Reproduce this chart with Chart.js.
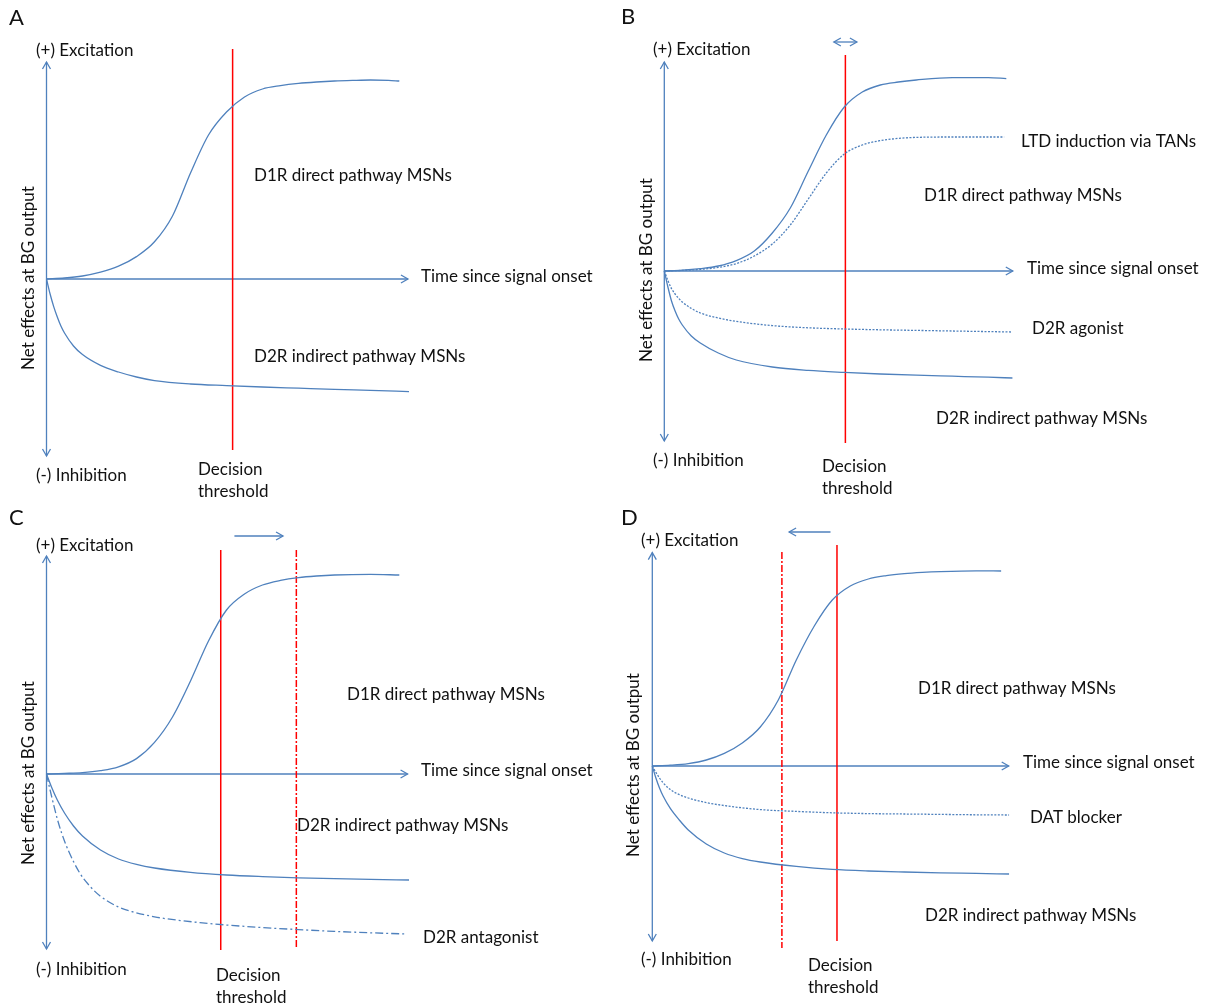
<!DOCTYPE html>
<html>
<head>
<meta charset="utf-8">
<script src="https://cdn.jsdelivr.net/npm/chart.js@4"></script>
<style>
  body { margin: 0; background: #fff; }
  #wrap { position: relative; width: 1210px; height: 1006px; }
  canvas { position: absolute; }
</style>
</head>
<body>
<div id="wrap">
  <canvas id="panelA" width="605" height="503" style="left:0;top:0"></canvas>
  <canvas id="panelB" width="605" height="503" style="left:605px;top:0"></canvas>
  <canvas id="panelC" width="605" height="503" style="left:0;top:503px"></canvas>
  <canvas id="panelD" width="605" height="503" style="left:605px;top:503px"></canvas>
</div>
<script>
// time since onset (arbitrary units) and net effect (+1 ~ full excitation)

// panel A
const a_d1r_t = [0, 0.5, 1, 1.5, 2, 2.5, 3, 3.5, 4, 4.5, 5, 5.5, 6, 6.5, 7, 7.5, 8, 8.5, 9, 9.5, 9.8];
const a_d1r_e = [0, 0.005, 0.015, 0.034, 0.064, 0.112, 0.186, 0.315, 0.53, 0.72, 0.835, 0.91, 0.95, 0.967, 0.978, 0.985, 0.99, 0.993, 0.995, 0.993, 0.99];
const a_d2r_t = [0, 0.1, 0.2, 0.3, 0.4, 0.5, 0.75, 1, 1.5, 2, 2.5, 3, 4, 5, 6, 7, 8, 9, 10.07];
const a_d2r_e = [0, -0.075, -0.138, -0.19, -0.235, -0.27, -0.335, -0.378, -0.432, -0.465, -0.49, -0.508, -0.525, -0.533, -0.54, -0.546, -0.552, -0.557, -0.563];

// panel B
const b_d1r_t = [0, 0.5, 1, 1.5, 2, 2.5, 3, 3.5, 4, 4.5, 5, 5.5, 6, 6.5, 7, 8, 9, 9.5];
const b_d1r_e = [0, 0.004, 0.012, 0.025, 0.052, 0.1, 0.19, 0.315, 0.5, 0.68, 0.82, 0.895, 0.93, 0.945, 0.955, 0.967, 0.967, 0.962];
const b_ltd_t = [0, 0.5, 1, 1.5, 2, 2.5, 3, 3.5, 4, 4.5, 5, 5.5, 6, 6.5, 7, 8, 9.44];
const b_ltd_e = [0, 0.003, 0.008, 0.018, 0.037, 0.075, 0.135, 0.23, 0.36, 0.49, 0.585, 0.63, 0.652, 0.663, 0.668, 0.67, 0.67];
const b_ago_t = [0, 0.1, 0.2, 0.3, 0.4, 0.5, 0.75, 1, 1.5, 2, 3, 4, 5, 6, 7, 8, 9, 9.67];
const b_ago_e = [0, -0.048, -0.088, -0.115, -0.137, -0.155, -0.187, -0.21, -0.235, -0.252, -0.273, -0.284, -0.29, -0.294, -0.297, -0.3, -0.303, -0.305];
const b_d2r_t = [0, 0.1, 0.2, 0.3, 0.4, 0.5, 0.75, 1, 1.5, 2, 3, 4, 5, 6, 7, 8, 9, 9.67];
const b_d2r_e = [0, -0.08, -0.15, -0.2, -0.24, -0.27, -0.325, -0.36, -0.41, -0.445, -0.48, -0.497, -0.507, -0.515, -0.521, -0.526, -0.531, -0.535];

// panel C
const c_d1r_t = [0, 0.5, 1, 1.5, 2, 2.5, 3, 3.5, 4, 4.5, 5, 5.5, 6, 6.5, 7, 7.5, 8, 9, 9.8];
const c_d1r_e = [0, 0.003, 0.007, 0.017, 0.036, 0.077, 0.158, 0.285, 0.465, 0.665, 0.82, 0.9, 0.945, 0.968, 0.982, 0.99, 0.995, 0.998, 0.995];
const c_d2r_t = [0, 0.15, 0.3, 0.5, 0.75, 1, 1.5, 2, 2.5, 3, 4, 5, 6, 7, 8, 9, 10.07];
const c_d2r_e = [0, -0.07, -0.13, -0.195, -0.26, -0.31, -0.38, -0.425, -0.452, -0.47, -0.492, -0.505, -0.513, -0.519, -0.523, -0.527, -0.53];
const c_ant_t = [0, 0.1, 0.2, 0.3, 0.42, 0.6, 0.93, 1.2, 1.49, 2, 2.41, 3, 3.34, 4.26, 5, 6, 7, 8, 9, 10.01];
const c_ant_e = [0, -0.08, -0.155, -0.225, -0.295, -0.38, -0.497, -0.56, -0.61, -0.665, -0.69, -0.714, -0.724, -0.743, -0.755, -0.768, -0.778, -0.787, -0.794, -0.8];

// panel D
const d_d1r_t = [0, 0.5, 1, 1.5, 2, 2.5, 3, 3.5, 4, 4.5, 5, 5.5, 6, 6.5, 7, 7.5, 8, 9, 9.69];
const d_d1r_e = [0, 0.004, 0.012, 0.03, 0.063, 0.115, 0.195, 0.33, 0.53, 0.7, 0.83, 0.9, 0.935, 0.952, 0.962, 0.968, 0.972, 0.976, 0.975];
const d_dat_t = [0, 0.1, 0.2, 0.3, 0.5, 0.75, 1, 1.5, 2, 3, 4, 5, 6, 7, 8, 9, 9.91];
const d_dat_e = [0, -0.032, -0.06, -0.084, -0.118, -0.143, -0.16, -0.183, -0.198, -0.218, -0.227, -0.234, -0.238, -0.24, -0.242, -0.244, -0.245];
const d_d2r_t = [0, 0.1, 0.2, 0.3, 0.5, 0.75, 1, 1.5, 2, 2.5, 3, 4, 5, 6, 7, 8, 9, 9.91];
const d_d2r_e = [0, -0.06, -0.11, -0.15, -0.212, -0.27, -0.32, -0.39, -0.435, -0.463, -0.48, -0.502, -0.517, -0.525, -0.53, -0.534, -0.537, -0.54];

// decision thresholds (time)
const a_thresh = [5.17];
const b_thresh = [5.03];
const c_thresh = [4.84, 6.94];
const d_thresh = [5.13, 3.6];

const SX = 36, SY = 200; // px per unit
const W = 605, H = 503;
const BLUE = '#4f81bd';
const RED = '#ff0000';
const FONT = 'Lato, "Open Sans", sans-serif';

function pts(ts, es) {
  return ts.map((t, i) => ({ x: t, y: es[i] }));
}

function curve(ts, es, dash) {
  return {
    data: pts(ts, es),
    borderColor: BLUE,
    borderWidth: 1.3,
    borderDash: dash || [],
    pointRadius: 0,
    cubicInterpolationMode: 'monotone',
    fill: false
  };
}

function vline(t, top, bottom, dash) {
  return {
    data: [{ x: t, y: top }, { x: t, y: bottom }],
    borderColor: RED,
    borderWidth: 1.5,
    borderDash: dash || [],
    pointRadius: 0,
    fill: false
  };
}

// open arrow head
function head(ctx, x, y, ang) {
  const len = 7, half = 4;
  ctx.beginPath();
  ctx.moveTo(x - len * Math.cos(ang) - half * Math.sin(ang), y - len * Math.sin(ang) + half * Math.cos(ang));
  ctx.lineTo(x, y);
  ctx.lineTo(x - len * Math.cos(ang) + half * Math.sin(ang), y - len * Math.sin(ang) - half * Math.cos(ang));
  ctx.stroke();
}

const extras = {
  id: 'extras',
  beforeDatasetsDraw(chart, args, opts) {
    const ctx = chart.ctx, xs = chart.scales.x, ys = chart.scales.y;
    ctx.save();
    ctx.strokeStyle = BLUE;
    ctx.lineWidth = 1.3;
    // axes
    const x0 = xs.getPixelForValue(0), y0 = ys.getPixelForValue(0);
    const xe = xs.getPixelForValue(opts.xEnd);
    const yt = ys.getPixelForValue(opts.yTop), yb = ys.getPixelForValue(opts.yBot);
    ctx.beginPath(); ctx.moveTo(x0, y0); ctx.lineTo(xe, y0); ctx.stroke();
    head(ctx, xe, y0, 0);
    ctx.beginPath(); ctx.moveTo(x0, yt); ctx.lineTo(x0, yb); ctx.stroke();
    head(ctx, x0, yt, -Math.PI / 2);
    head(ctx, x0, yb, Math.PI / 2);
    ctx.restore();
  },
  afterDraw(chart, args, opts) {
    const ctx = chart.ctx, xs = chart.scales.x, ys = chart.scales.y;
    ctx.save();
    // threshold shift arrow
    if (opts.shift) {
      const s = opts.shift;
      const p1 = xs.getPixelForValue(s.from), p2 = xs.getPixelForValue(s.to), py = ys.getPixelForValue(s.e);
      ctx.strokeStyle = BLUE;
      ctx.lineWidth = 1.3;
      ctx.beginPath(); ctx.moveTo(p1, py); ctx.lineTo(p2, py); ctx.stroke();
      head(ctx, p2, py, p2 > p1 ? 0 : Math.PI);
      if (s.both) head(ctx, p1, py, p2 > p1 ? Math.PI : 0);
    }
    // text
    ctx.fillStyle = '#111';
    ctx.textBaseline = 'middle';
    ctx.textAlign = 'left';
    ctx.font = '22px ' + FONT;
    ctx.fillText(opts.letter[0], opts.letter[1], opts.letter[2]);
    ctx.font = '17px ' + FONT;
    opts.labels.forEach(l => ctx.fillText(l[0], l[1], l[2]));
    ctx.translate(opts.ylab[0], opts.ylab[1]);
    ctx.rotate(-Math.PI / 2);
    ctx.textAlign = 'center';
    ctx.fillText('Net effects at BG output', 0, 0);
    ctx.restore();
  }
};

function makePanel(id, cfg) {
  new Chart(document.getElementById(id), {
    type: 'line',
    data: { datasets: cfg.datasets },
    options: {
      responsive: false,
      animation: false,
      events: [],
      layout: { padding: 0 },
      scales: {
        x: { type: 'linear', display: false, min: -cfg.ox / SX, max: (W - cfg.ox) / SX },
        y: { type: 'linear', display: false, min: -(H - cfg.oy) / SY, max: cfg.oy / SY }
      },
      plugins: {
        legend: { display: false },
        tooltip: { enabled: false },
        extras: cfg.extras
      }
    },
    plugins: [extras]
  });
}

const commonLabels = (ex, inh, time, dec) => [
  ['(+) Excitation', ex[0], ex[1]],
  ['(-) Inhibition', inh[0], inh[1]],
  ['Time since signal onset', time[0], time[1]],
  ['Decision', dec[0], dec[1]],
  ['threshold', dec[0], dec[1] + 22]
];

makePanel('panelA', {
  ox: 46.5, oy: 279,
  datasets: [
    curve(a_d1r_t, a_d1r_e),
    curve(a_d2r_t, a_d2r_e),
    vline(a_thresh[0], 1.15, -0.855)
  ],
  extras: {
    xEnd: 10.04, yTop: 1.085, yBot: -0.885,
    letter: ['A', 9, 18],
    ylab: [29, 278],
    labels: commonLabels([36, 51], [36, 476], [421, 277], [198, 470]).concat([
      ['D1R direct pathway MSNs', 254, 176],
      ['D2R indirect pathway MSNs', 254, 357]
    ])
  }
});

makePanel('panelB', {
  ox: 59.3, oy: 271,
  datasets: [
    curve(b_d1r_t, b_d1r_e),
    curve(b_ltd_t, b_ltd_e, [2, 1.5]),
    curve(b_ago_t, b_ago_e, [2, 1.5]),
    curve(b_d2r_t, b_d2r_e),
    vline(b_thresh[0], 1.08, -0.86)
  ],
  extras: {
    xEnd: 9.68, yTop: 1.045, yBot: -0.85,
    letter: ['B', 16, 17],
    ylab: [41.5, 270],
    shift: { from: 4.71, to: 5.35, e: 1.145, both: true },
    labels: commonLabels([48, 50], [48, 461], [422, 269], [217, 467]).concat([
      ['LTD induction via TANs', 416, 142],
      ['D1R direct pathway MSNs', 319, 196],
      ['D2R agonist', 427, 329],
      ['D2R indirect pathway MSNs', 331, 419]
    ])
  }
});

makePanel('panelC', {
  ox: 46.5, oy: 271,
  datasets: [
    curve(c_d1r_t, c_d1r_e),
    curve(c_d2r_t, c_d2r_e),
    curve(c_ant_t, c_ant_e, [8, 3, 2, 3]),
    vline(c_thresh[0], 1.12, -0.88),
    vline(c_thresh[1], 1.12, -0.87, [7, 2, 2, 2])
  ],
  extras: {
    xEnd: 10.03, yTop: 1.09, yBot: -0.875,
    letter: ['C', 9, 15],
    ylab: [29, 270],
    shift: { from: 5.22, to: 6.57, e: 1.19 },
    labels: commonLabels([36, 43], [36, 467], [421, 268], [216, 473]).concat([
      ['D1R direct pathway MSNs', 347, 192],
      ['D2R indirect pathway MSNs', 297, 323],
      ['D2R antagonist', 423, 435]
    ])
  }
});

makePanel('panelD', {
  ox: 47.3, oy: 263,
  datasets: [
    curve(d_d1r_t, d_d1r_e),
    curve(d_dat_t, d_dat_e, [2, 1.5]),
    curve(d_d2r_t, d_d2r_e),
    vline(d_thresh[0], 1.105, -0.875),
    vline(d_thresh[1], 1.07, -0.91, [7, 2, 2, 2])
  ],
  extras: {
    xEnd: 9.9, yTop: 1.067, yBot: -0.875,
    letter: ['D', 16, 15],
    ylab: [29, 262],
    shift: { from: 4.95, to: 3.8, e: 1.17 },
    labels: commonLabels([36, 38], [36, 457], [418, 260], [203, 463]).concat([
      ['D1R direct pathway MSNs', 313, 186],
      ['DAT blocker', 425, 315],
      ['D2R indirect pathway MSNs', 320, 413]
    ])
  }
});
</script>
</body>
</html>
